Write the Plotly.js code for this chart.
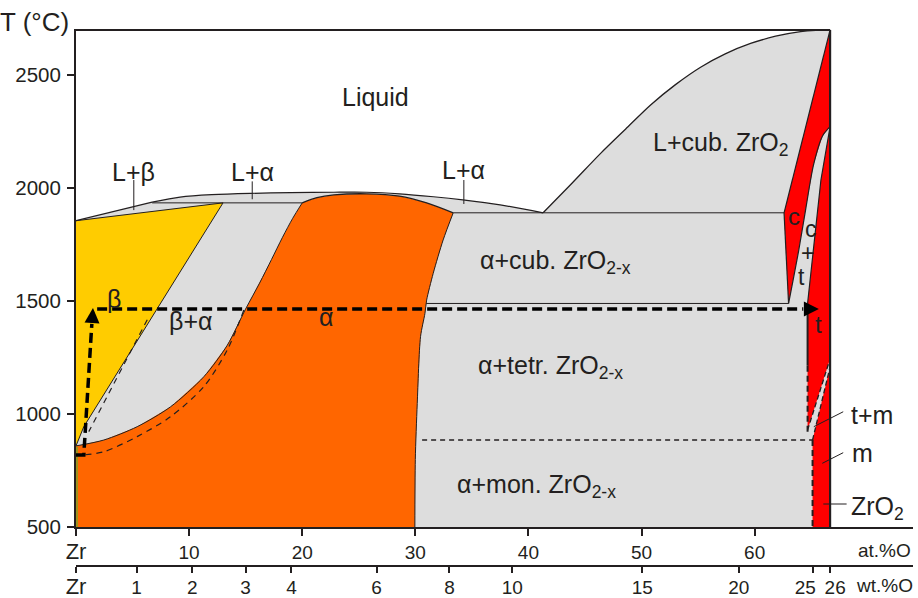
<!DOCTYPE html>
<html><head><meta charset="utf-8">
<script src="https://cdn.plot.ly/plotly-3.0.1.min.js"></script>
<style>html,body{margin:0;padding:0;background:#fff}</style>
</head><body>
<div id="chart" style="width:918px;height:598px"></div>
<script>
// ---------- data (x: at.% O, y: °C) ----------
const atTickVals = [0, 10, 20, 30, 40, 50, 60];
const atTickText = ['<span style="font-size:22px">Zr</span>', '10', '20', '30', '40', '50', '60'];
const wtTickVals = [0, 5.35, 10.27, 14.99, 19.05, 26.57, 33.02, 38.57, 50.06, 58.6, 65.18, 66.65];
const wtTickText = ['<span style="font-size:22px">Zr</span>', '1', '2', '3', '4', '6', '8', '10', '15', '20',
                    '25\u00a0\u00a0\u00a0', '\u00a0\u00a026'];
const tTickVals = [500, 1000, 1500, 2000, 2500];

// liquidus, in three pieces: L+beta side, alpha side, ZrO2 side
const liqBetaX = [0, 6.73];
const liqBetaT = [1856, 1938];
const liqAlphaX = [6.73, 9.2, 12.0, 15.4, 19.0, 22.8, 25.7, 28.6, 31.6, 34.2, 37.5, 41.3];
const liqAlphaT = [1938, 1960, 1971, 1977, 1980, 1982, 1982, 1975, 1962, 1948, 1926, 1891];
const liqOxideX = [41.3, 43.87, 46.38, 48.6, 50.8, 53.0, 55.22, 57.4, 59.64, 61.85, 64.06, 65.4, 66.67];
const liqOxideT = [1891, 2023, 2154, 2262, 2368, 2458, 2535, 2594, 2640, 2672, 2692, 2698, 2700];
const betaSolidusX = [0, 13.0];
const betaSolidusT = [1856, 1935];
const peritecticX = [6.73, 20.0];
const peritecticT = [1935, 1935];
const betaAlphaX = [13.0, 0.69, 0];
const betaAlphaT = [1935, 945, 860];
const alphaBetaX = [0, 2.46, 5.41, 8.36, 11.30, 13.37, 14.99, 16.23, 17.29, 18.26, 19.14, 20.0];
const alphaBetaT = [860, 886, 945, 1033, 1166, 1305, 1465, 1580, 1685, 1783, 1865, 1935];
const alphaSolidusX = [20.0, 21.3, 22.8, 25.7, 28.6, 31.0, 33.35];
const alphaSolidusT = [1935, 1958, 1970, 1975, 1965, 1935, 1891];
const alphaOxideX = [33.35, 32.46, 31.58, 31.0, 30.85, 30.46, 30.17, 30.0, 29.96];
const alphaOxideT = [1891, 1771, 1623, 1505, 1446, 1343, 1048, 800, 500];
const eutecticX = [33.35, 62.6];
const eutecticT = [1891, 1891];
const eutectoidX = [30.96, 63.0];
const eutectoidT = [1490, 1490];
const cubicLiqX = [66.67, 62.6];
const cubicLiqT = [2700, 1891];
const cubicAlphaX = [62.6, 63.0];
const cubicAlphaT = [1891, 1490];
const cubicTetX = [63.0, 63.9, 64.5, 65.2, 66.0, 66.67];
const cubicTetT = [1490, 1726, 1903, 2102, 2231, 2272];
const tetCubX = [66.67, 65.86, 64.68];
const tetCubT = [2272, 2036, 1490];
const tetEdgeSolidX = [64.68, 64.68];
const tetEdgeSolidT = [1490, 1215];
const tetEdgeDashX = [64.68, 64.68];
const tetEdgeDashT = [1215, 905];
const tmUpperX = [64.68, 66.67];
const tmUpperT = [930, 1245];
const tmLowerX = [65.12, 66.67];
const tmLowerT = [886, 1210];
const monoLineX = [30.6, 65.12];
const monoLineT = [886, 886];
const monoEdgeX = [65.12, 65.12];
const monoEdgeT = [886, 500];
const oxideEdgeX = [66.67, 66.67];
const oxideEdgeT = [500, 2700];
const topEdgeX = [0, 66.67];
const topEdgeT = [2700, 2700];
const pureZrX = [0.09, 0.09];
const pureZrT = [500, 856];
const metaAX = [6.30, 1.13];
const metaAT = [1418, 923];
const metaBX = [14.84, 13.37, 11.30, 8.36, 5.41, 2.46, 0.69];
const metaBT = [1461, 1284, 1122, 989, 901, 834, 820];
const pathUpX = [0, 0.69, 1.40];
const pathUpT = [820, 820, 1400];
const pathRightX = [1.87, 64.3];
const pathRightT = [1465, 1465];
const arrowTipX = [1.50, 65.68];
const arrowTipT = [1470, 1465];

// leader lines
const leaderLBX = [5.11, 5.11], leaderLBT = [2036, 1903];
const leaderLA1X = [15.58, 15.58], leaderLA1T = [2030, 1951];
const leaderLA2X = [34.29, 34.29], leaderLA2T = [2036, 1930];
const leaderTMX = [67.83, 65.23], leaderTMT = [1011, 945];
const leaderMX = [67.83, 65.98], leaderMT = [830, 783];
const leaderOxX = [68.13, 66.07], leaderOxT = [603, 603];

// colours
const GRAY = '#DDDDDD', YELLOW = '#FFCC00', ORANGE = '#FF6600', RED = '#FF0000', INK = '#231F20';
const FONT = 'Liberation Sans, Arial, sans-serif';

function cat() { const out = []; for (const a of arguments) out.push(...a); return out; }
function poly(x, y, color) {
  return {type: 'scatter', mode: 'lines', x: x, y: y, fill: 'toself', fillcolor: color,
          line: {width: 0, color: color}, hoverinfo: 'skip', showlegend: false};
}
function line(x, y, w, dash, color, shape) {
  return {type: 'scatter', mode: 'lines', x: x, y: y,
          line: {width: w, color: color || INK, dash: dash || 'solid', shape: shape || 'linear', smoothing: 0.8},
          hoverinfo: 'skip', showlegend: false};
}

const traces = [
  // region fills
  poly(cat(liqBetaX, liqAlphaX.slice(1), liqOxideX.slice(1), [66.67, 0]),
       cat(liqBetaT, liqAlphaT.slice(1), liqOxideT.slice(1), [500, 500]), GRAY),
  poly(cat([0, 0], betaSolidusX.slice(1), betaAlphaX), cat([860, 1856], betaSolidusT.slice(1), betaAlphaT), YELLOW),
  poly(cat(alphaBetaX, alphaSolidusX, alphaOxideX, [0]), cat(alphaBetaT, alphaSolidusT, alphaOxideT, [500]), ORANGE),
  poly(cat(cubicLiqX, cubicAlphaX, cubicTetX), cat(cubicLiqT, cubicAlphaT, cubicTetT), RED),
  poly(cat(tetCubX, tmUpperX), cat(tetCubT, tmUpperT), RED),
  poly(cat(tmLowerX, [66.67, 65.12]), cat(tmLowerT, [500, 500]), RED),
  // phase boundaries
  line(liqBetaX, liqBetaT, 1.2),
  line(liqAlphaX, liqAlphaT, 1.2, null, null, 'spline'),
  line(liqOxideX, liqOxideT, 1.3, null, null, 'spline'),
  line(betaSolidusX, betaSolidusT, 1),
  line(peritecticX, peritecticT, 1),
  line(betaAlphaX, betaAlphaT, 1),
  line(alphaBetaX, alphaBetaT, 1, null, null, 'spline'),
  line(alphaSolidusX, alphaSolidusT, 1.3, null, null, 'spline'),
  line(alphaOxideX, alphaOxideT, 1, null, null, 'spline'),
  line(eutecticX, eutecticT, 1),
  line(eutectoidX, eutectoidT, 1),
  line(cubicLiqX, cubicLiqT, 1.2),
  line(cubicAlphaX, cubicAlphaT, 1.2),
  line(cubicTetX, cubicTetT, 1.2, null, null, 'spline'),
  line(tetCubX, tetCubT, 1.2),
  line(tetEdgeSolidX, tetEdgeSolidT, 2),
  line(tetEdgeDashX, tetEdgeDashT, 2, '6px,4px'),
  line(tmUpperX, tmUpperT, 1.3, '5px,3px'),
  line(tmLowerX, tmLowerT, 1.3, '5px,3px'),
  line(monoLineX, monoLineT, 1.3, '5px,4px'),
  line(monoEdgeX, monoEdgeT, 2, '6px,4px'),
  line(oxideEdgeX, oxideEdgeT, 2.2),
  line(topEdgeX, topEdgeT, 2),
  line(pureZrX, pureZrT, 1.2, 'solid', '#5BB030'),
  line(metaAX, metaAT, 1.2, '6px,5px'),
  line(metaBX, metaBT, 1.2, '6px,5px', null, 'spline'),
  // leaders
  line(leaderLBX, leaderLBT, 1),
  line(leaderLA1X, leaderLA1T, 1),
  line(leaderLA2X, leaderLA2T, 1),
  line(leaderTMX, leaderTMT, 1),
  line(leaderMX, leaderMT, 1),
  line(leaderOxX, leaderOxT, 1),
  // heating path
  line(pathUpX, pathUpT, 3.5, '10px,5px', '#000'),
  line(pathRightX, pathRightT, 3.5, '10px,5px', '#000'),
  // carrier for the wt.% axis
  {type: 'scatter', mode: 'markers', x: [0], y: [500], xaxis: 'x2', yaxis: 'y',
   marker: {opacity: 0}, hoverinfo: 'skip', showlegend: false}
];

function lab(text, x, y, size, extra) {
  return Object.assign({text: text, x: x, y: y, xref: 'x', yref: 'y', showarrow: false,
    xanchor: 'center', yanchor: 'middle', font: {family: FONT, size: size, color: INK}}, extra || {});
}
const R = 25;
const annotations = [
  lab('T (°C)', -0.049, 1.013, 26, {xref: 'paper', yref: 'paper'}),
  lab('at.%O', 0.9665, 0.028, 19, {xref: 'paper', yref: 'paper'}),
  lab('wt.%O', 0.9665, -0.037, 19, {xref: 'paper', yref: 'paper'}),
  lab('Liquid', 26.48, 2403, R),
  lab('L+β', 5.11, 2073, R),
  lab('L+α', 15.58, 2070, R),
  lab('L+α', 34.29, 2080, R),
  lab('L+cub. ZrO<sub>2</sub>', 56.98, 2195, R),
  lab('α+cub. ZrO<sub>2-x</sub>', 42.4, 1673, R),
  lab('α+tetr. ZrO<sub>2-x</sub>', 41.95, 1209, R),
  lab('α+mon. ZrO<sub>2-x</sub>', 40.72, 683, R),
  lab('β', 3.32, 1510, R),
  lab('β+α', 10.12, 1413, R),
  lab('α', 22.06, 1430, R),
  lab('c', 63.47, 1874, 24),
  lab('c', 64.94, 1818, 23),
  lab('+', 64.65, 1712, 23),
  lab('t', 64.15, 1606, 23),
  lab('t', 65.68, 1395, 24),
  lab('t+m', 70.4, 997, R),
  lab('m', 69.51, 827, R),
  lab('ZrO<sub>2</sub>', 70.84, 584, R),
  // arrowheads of the heating path
  {x: arrowTipX[0], y: arrowTipT[0], xref: 'x', yref: 'y', text: '', showarrow: true,
   ax: -1, ay: 16, arrowhead: 2, arrowsize: 1, arrowwidth: 3, arrowcolor: '#000'},
  {x: arrowTipX[1], y: arrowTipT[1], xref: 'x', yref: 'y', text: '', showarrow: true,
   ax: -16, ay: 0, arrowhead: 2, arrowsize: 1, arrowwidth: 3, arrowcolor: '#000'}
];

const axisCommon = {showgrid: false, zeroline: false, showline: true, linecolor: INK, linewidth: 2,
  ticks: 'outside', tickcolor: INK, tickwidth: 2, fixedrange: true, tickangle: 0,
  tickfont: {family: FONT, size: 19, color: INK}};

const layout = {
  width: 918, height: 598,
  margin: {l: 76, r: 5, t: 29, b: 32},
  paper_bgcolor: '#fff', plot_bgcolor: '#fff',
  showlegend: false,
  font: {family: FONT, size: 19, color: INK},
  xaxis: Object.assign({}, axisCommon, {range: [0, 74], anchor: 'y', ticklen: 7,
    tickmode: 'array', tickvals: atTickVals, ticktext: atTickText}),
  xaxis2: Object.assign({}, axisCommon, {range: [0, 74], overlaying: 'x', anchor: 'free', position: 0,
    side: 'bottom', ticklen: 6, tickmode: 'array', tickvals: wtTickVals, ticktext: wtTickText,
    ticklabelstandoff: -2}),
  yaxis: Object.assign({}, axisCommon, {range: [500, 2704], domain: [0.0721, 1], ticklen: 7,
    tickmode: 'array', tickvals: tTickVals, ticklabelstandoff: 2,
    tickfont: {family: FONT, size: 20.5, color: INK}}),
  annotations: annotations
};

Plotly.newPlot('chart', traces, layout, {staticPlot: true, displayModeBar: false});
</script>
</body></html>
